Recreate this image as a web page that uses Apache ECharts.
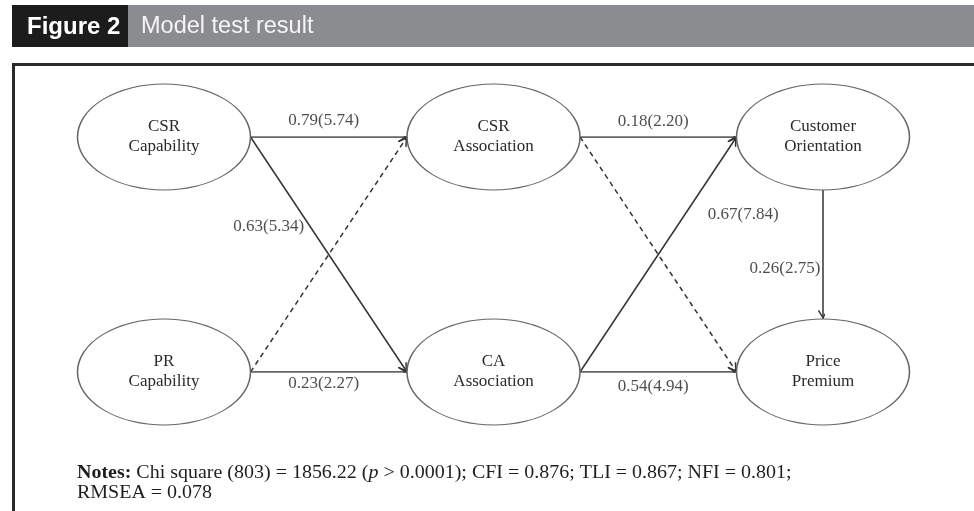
<!DOCTYPE html>
<html><head><meta charset="utf-8">
<script src="https://cdn.jsdelivr.net/npm/echarts@6/dist/echarts.min.js"></script>
<style>html,body{margin:0;padding:0;background:#fff}#c{width:974px;height:511px}</style>
</head><body><div id="c"></div>
<script>
// ---- data ----
const nodeNames = ['CSR\nCapability','CSR\nAssociation','Customer\nOrientation','PR\nCapability','CA\nAssociation','Price\nPremium'];
const nodeCol = [0,1,2,0,1,2];
const nodeRow = [0,0,0,1,1,1];
const edgeFrom = [0,1,3,4,0,3,1,4,2];
const edgeTo   = [1,2,4,5,4,1,5,2,5];
const edgeLabels = ['0.79(5.74)','0.18(2.20)','0.23(2.27)','0.54(4.94)','0.63(5.34)','','','0.67(7.84)','0.26(2.75)'];
const edgeDashed = [false,false,false,false,false,true,true,false,false];
const titleLead = 'Figure 2';
const titleText = 'Model test result';
const notesLine1 = ['Chi square (803) = 1856.22 (', 'p', ' > 0.0001); CFI = 0.876; TLI = 0.867; NFI = 0.801;'];
const notesLine2 = 'RMSEA = 0.078';

// ---- layout / style ----
const W = 974, H = 511;
const gridL = 164, gridR = 151, gridT = 137, gridB = 139;
const unitX = (W - gridL - gridR) / 2, unitY = (H - gridT - gridB) / 1;
const ellW = 173, ellH = 106;
const rx = ellW / 2 / unitX, ry = ellH / 2 / unitY;
const labelOffset = [[-5,-16],[-5,-15],[-5,12],[-5,15],[-60,-28],[0,0],[0,0],[85,-40],[-38,14]];
const serif = '"Liberation Serif","Times New Roman",serif';
const sans = '"Liberation Sans",Arial,sans-serif';
const lineColor = '#333';

function anchors(a, b) {
  const ax = nodeCol[a], ay = nodeRow[a], bx = nodeCol[b], by = nodeRow[b];
  if (ax === bx) {
    return by > ay ? [[ax, ay + ry], [bx, by - ry]] : [[ax, ay - ry], [bx, by + ry]];
  }
  return bx > ax ? [[ax + rx, ay], [bx - rx, by]] : [[ax - rx, ay], [bx + rx, by]];
}

const nodeData = nodeNames.map((n, i) => ({ name: n, value: [nodeCol[i], nodeRow[i]] }));
const edgeData = edgeFrom.map((f, i) => ({
  coords: anchors(f, edgeTo[i]),
  lineStyle: { type: edgeDashed[i] ? [5, 4] : 'solid' }
}));
const edgeLabelData = edgeFrom.map((f, i) => {
  const c = anchors(f, edgeTo[i]);
  return {
    name: edgeLabels[i],
    value: [(c[0][0] + c[1][0]) / 2, (c[0][1] + c[1][1]) / 2],
    label: { offset: labelOffset[i] }
  };
}).filter(d => d.name);

// open chevron arrow, tip at centre of a square bounding box
const arrowPath = 'path://M0,0L0,0.01L0.01,0ZM20,20L20,19.99L19.99,20ZM10,10L15.2,18.2L13.9,19L10,12.6L6.1,19L4.8,18.2Z';

const rich = {
  b: { fontFamily: serif, fontSize: 18, fontWeight: 'bold', fill: '#1e1e1e', lineHeight: 20 },
  n: { fontFamily: serif, fontSize: 18, fontWeight: 'normal', fill: '#1e1e1e', lineHeight: 20 },
  i: { fontFamily: serif, fontSize: 18, fontWeight: 'normal', fontStyle: 'italic', fill: '#1e1e1e', lineHeight: 20 }
};

const chart = echarts.init(document.getElementById('c'), null, { renderer: 'canvas' });
chart.setOption({
  animation: false,
  backgroundColor: '#fff',
  grid: { left: gridL, right: gridR, top: gridT, bottom: gridB },
  xAxis: { type: 'value', min: 0, max: 2, show: false },
  yAxis: { type: 'value', min: 0, max: 1, inverse: true, show: false },
  graphic: [
    { type: 'rect', shape: { x: 12, y: 5, width: 116, height: 42 }, style: { fill: '#1c1c1c' } },
    { type: 'rect', shape: { x: 128, y: 5, width: W - 128, height: 42 }, style: { fill: '#8b8c90' } },
    { type: 'text', x: 27, y: 27, style: { text: titleLead, fill: '#fff', font: 'bold 24px ' + sans, verticalAlign: 'middle' } },
    { type: 'text', x: 141, y: 27, style: { text: titleText, fill: '#f5f5f5', font: '23.5px ' + sans, verticalAlign: 'middle' } },
    { type: 'rect', shape: { x: 12, y: 63, width: W - 12, height: 3 }, style: { fill: '#2a2a2a' } },
    { type: 'rect', shape: { x: 12, y: 63, width: 3, height: H - 63 }, style: { fill: '#2a2a2a' } },
    {
      type: 'text', x: 77, y: 463, scaleX: 1.11,
      style: {
        text: '{b|Notes:}{n| ' + notesLine1[0] + '}{i|' + notesLine1[1] + '}{n|' + notesLine1[2] + '}\n{n|' + notesLine2 + '}',
        rich: rich, verticalAlign: 'top', align: 'left'
      }
    }
  ],
  series: [
    {
      type: 'lines', coordinateSystem: 'cartesian2d', z: 2,
      symbol: ['none', arrowPath], symbolSize: 20,
      lineStyle: { color: lineColor, width: 1.5, opacity: 1 },
      data: edgeData
    },
    {
      type: 'scatter', z: 3, symbol: 'circle', symbolSize: [ellW, ellH],
      itemStyle: { color: '#fff', borderColor: '#666', borderWidth: 1.2, opacity: 1 },
      label: { show: true, position: 'inside', formatter: p => p.name, fontFamily: serif, fontSize: 17, lineHeight: 20, color: '#2a2a2a' },
      data: nodeData
    },
    {
      type: 'scatter', z: 4, symbolSize: 0,
      label: { show: true, position: 'inside', formatter: p => p.name, fontFamily: serif, fontSize: 17, color: '#222' },
      data: edgeLabelData
    }
  ]
});
</script></body></html>
